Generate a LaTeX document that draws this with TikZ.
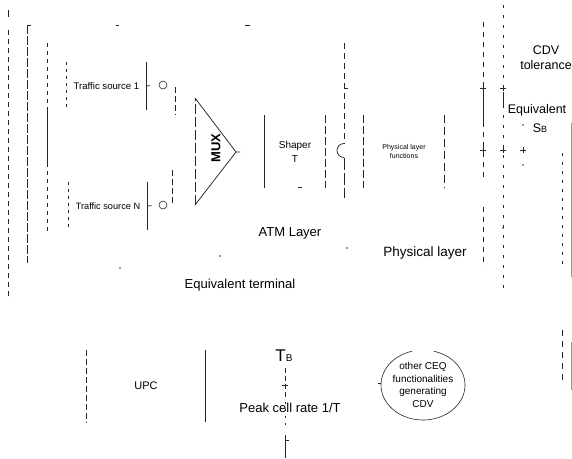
\documentclass[tikz,border=0pt]{standalone}
\usepackage{fontspec}
\setmainfont{Liberation Sans}
\begin{document}
\begin{tikzpicture}[x=1pt,y=-1pt,
  ln/.style={draw=black!85, line width=0.75pt},
  dl/.style={ln, dash pattern=on 7pt off 3pt},
  sp/.style={ln, line width=0.6pt, dash pattern=on 2pt off 5pt},
  stub/.style={ln, dash pattern=on 4pt off 40pt},
  lbl/.style={inner sep=0pt, align=center, text=black},
  sidebox/.style={draw=none, inner sep=0pt, align=center},
  port/.style={circle, draw=black!85, line width=0.6pt, minimum size=8pt, inner sep=0pt},
  fnt/.style={font=\fontsize{#1}{#1}\selectfont}
]
\useasboundingbox (0,0) rectangle (572,458);

% ---------- outer vertical fragments (left) ----------
\coordinate (a0) at (8,10);  \coordinate (a0b) at (8,17);
\coordinate (a1) at (8,30);  \coordinate (a2) at (8,300);
\coordinate (b1) at (27,25); \coordinate (b2) at (27,263); \coordinate (bh) at (31,25);
\coordinate (c1) at (47,43); \coordinate (c2) at (47,233);
\coordinate (c3) at (47,110); \coordinate (c4) at (47,167);
\draw[ln] (a0) -- (a0b);
\draw[dl, dash pattern=on 5pt off 4pt] (a1) -- (a2);
\draw[dl, dash pattern=on 9pt off 2pt] (b1) -- (b2);
\draw[ln] (b1) -- (bh);
\draw[dl, dash pattern=on 4pt off 4pt] (c1) -- (c2);
\draw[ln] (c3) -- (c4);
\coordinate (h1) at (116,25); \coordinate (h2) at (119,25);
\coordinate (h3) at (245,25); \coordinate (h4) at (250,25);
\draw[ln] (h1) -- (h2);
\draw[ln] (h3) -- (h4);

% ---------- traffic sources ----------
\node[sidebox, minimum width=79pt, minimum height=48pt, fnt=9.6] (ts1) at (106.5,86) {Traffic source 1};
\node[sidebox, minimum width=79pt, minimum height=48pt, fnt=9.2] (tsn) at (108,206) {Traffic source N};
\draw[dl, dash pattern=on 3pt off 4pt] (ts1.north west) -- (ts1.south west);
\draw[ln] (ts1.north east) -- (ts1.south east);
\draw[dl, dash pattern=on 3pt off 4pt] (tsn.north west) -- (tsn.south west);
\draw[ln] (tsn.north east) -- (tsn.south east);
\node[port] (p1) at (163,85) {};
\node[port] (pn) at (163,205) {};
\draw[stub] (ts1.east) -- (p1.west);
\draw[stub] (tsn.east) -- (pn.west);

\coordinate (d1) at (175,87);  \coordinate (d2) at (175,115);
\coordinate (e1) at (172,170); \coordinate (e2) at (172,205);
\draw[dl, dash pattern=on 6pt off 3pt] (d1) -- (d2);
\draw[dl, dash pattern=on 6pt off 3pt] (e1) -- (e2);

% ---------- MUX ----------
\coordinate (mt) at (195,98);
\coordinate (mb) at (195,205);
\coordinate (ma) at (236,152);
\draw[ln] (mt) -- (ma) -- (mb);
\draw[dl, dash pattern=on 10pt off 3pt] (mb) -- (mt);
\node[lbl, rotate=90, font=\fontsize{13}{13}\selectfont\bfseries] (mux) at (216,148) {MUX};

% ---------- Shaper ----------
\node[sidebox, minimum width=60pt, minimum height=72pt, font=\fontsize{10}{14}\selectfont] (shaper) at (295,151.5) {Shaper\\T};
\draw[ln] (shaper.north west) -- (shaper.south west);
\draw[dl, dash pattern=on 8pt off 3pt] (shaper.north east) -- (shaper.south east);
\draw[stub] (ma) -- (shaper.west);
\coordinate (s1) at (298,187); \coordinate (s2) at (302,187);
\draw[ln] (s1) -- (s2);

% ---------- measurement line with point ----------
\coordinate (m1) at (344,43);  \coordinate (m2) at (344,143.5);
\coordinate (m3) at (344,157.5); \coordinate (m4) at (344,198);
\coordinate (mk) at (344,88); \coordinate (mk2) at (348,88);
\draw[dl, dash pattern=on 6pt off 4pt] (m1) -- (m2);
\draw[ln] (m2) arc[start angle=90, end angle=270, radius=7pt];
\draw[dl, dash pattern=on 12pt off 3pt] (m3) -- (m4);
\draw[ln, line width=1pt] (mk) -- (mk2);

% ---------- Physical layer functions ----------
\node[sidebox, minimum width=80pt, minimum height=73pt, font=\fontsize{7}{8.5}\selectfont] (phy) at (404,151.5) {Physical layer\\functions};
\draw[dl, dash pattern=on 8pt off 3pt] (phy.north west) -- (phy.south west);
\draw[dl, dash pattern=on 8pt off 4pt] (phy.north east) -- (phy.south east);

% ---------- right vertical fragments ----------
\coordinate (r1) at (483,22);  \coordinate (r2) at (483,180);
\coordinate (r3) at (483,207); \coordinate (r4) at (483,267);
\coordinate (r5) at (483,88);  \coordinate (r6) at (483,125);
\draw[dl, dash pattern=on 5pt off 5pt] (r1) -- (r2);
\draw[dl, dash pattern=on 5pt off 5pt] (r3) -- (r4);
\draw[ln] (r5) -- (r6);
\coordinate (q1) at (503,5);   \coordinate (q2) at (503,293);
\coordinate (q3) at (503,92);  \coordinate (q4) at (503,105);
\draw[sp, dash pattern=on 3pt off 7pt] (q1) -- (q2);
\draw[ln] (q3) -- (q4);
\foreach \xx/\yy/\nm in {483/88/A, 503/88/B, 483/150/C, 503/150/D, 523/150/E}{
  \coordinate (t\nm l) at (\xx-3,\yy); \coordinate (t\nm r) at (\xx+3,\yy);
  \coordinate (t\nm t) at (\xx,\yy-3); \coordinate (t\nm b) at (\xx,\yy+3);
  \draw[ln, line width=0.6pt] (t\nm l) -- (t\nm r);
  \draw[ln, line width=0.6pt] (t\nm t) -- (t\nm b);
}
\coordinate (u1) at (562,153); \coordinate (u2) at (562,267);
\coordinate (u3) at (562,330); \coordinate (u4) at (562,385);
\draw[sp, dash pattern=on 3pt off 6pt] (u1) -- (u2);
\draw[dl, dash pattern=on 6pt off 5pt] (u3) -- (u4);
\coordinate (v1) at (571,123); \coordinate (v2) at (571,277);
\coordinate (v3) at (571,342); \coordinate (v4) at (571,390);
\draw[draw=black!40, line width=0.8pt] (v1) -- (v2);
\draw[draw=black!40, line width=0.8pt] (v3) -- (v4);

% small dots
\foreach \xx/\yy/\nm in {523/125/a, 523/165/b, 220/256/c, 347/248/d, 120/268/e, 503/228/f}{
  \fill[black!80] (\xx,\yy) circle[radius=0.8pt];
}

% ---------- labels ----------
\node[lbl, font=\fontsize{12.5}{15}\selectfont] (cdv) at (546,58) {CDV\\tolerance};
\node[lbl, fnt=12.5] (eqsb) at (537,110) {Equivalent};
\node[lbl, fnt=12.5] (sb) at (540,128) {S{\fontsize{9}{9}\selectfont B}};
\node[lbl, fnt=13] (atm) at (290,233) {ATM Layer};
\node[lbl, fnt=13.5] (phl) at (425,253) {Physical layer};
\node[lbl, fnt=13] (eqt) at (240,285) {Equivalent terminal};

% ---------- bottom ----------
\node[sidebox, minimum width=118pt, minimum height=72pt, fnt=11] (upc) at (146,386) {UPC};
\draw[dl, dash pattern=on 6pt off 3pt] (upc.north west) -- (upc.south west);
\draw[ln] (upc.north east) -- (upc.south east);

\node[lbl] (tb) at (284,356) {{\fontsize{17}{17}\selectfont T}{\fontsize{10}{10}\selectfont B}};
\coordinate (w1) at (285,368); \coordinate (w2) at (285,398);
\coordinate (w3) at (285,402); \coordinate (w4) at (285,426);
\coordinate (w5) at (285,435); \coordinate (w6) at (285,458);
\coordinate (wk1) at (282,385); \coordinate (wk2) at (288,385);
\coordinate (wa1) at (285,440); \coordinate (wa2) at (289,440);
\draw[dl, dash pattern=on 5pt off 3pt] (w1) -- (w2);
\draw[ln, line width=0.6pt] (wk1) -- (wk2);
\draw[sp] (w3) -- (w4);
\draw[ln] (w5) -- (w6);
\draw[ln, line width=1pt] (wa1) -- (wa2);
\node[lbl, fnt=13] (pcr) at (290,408) {Peak cell rate 1/T};

\node[lbl, font=\fontsize{10}{12.5}\selectfont] (ceq) at (423,385) {other CEQ\\functionalities\\generating\\CDV};
\draw[ln, line width=0.6pt] (ceq.center) ++(105:42pt and 35pt) arc[start angle=105, end angle=435, x radius=42pt, y radius=35pt];
\coordinate (ck1) at (378,383); \coordinate (ck2) at (381,383);
\draw[ln, line width=0.6pt] (ck1) -- (ck2);
\end{tikzpicture}
\end{document}
